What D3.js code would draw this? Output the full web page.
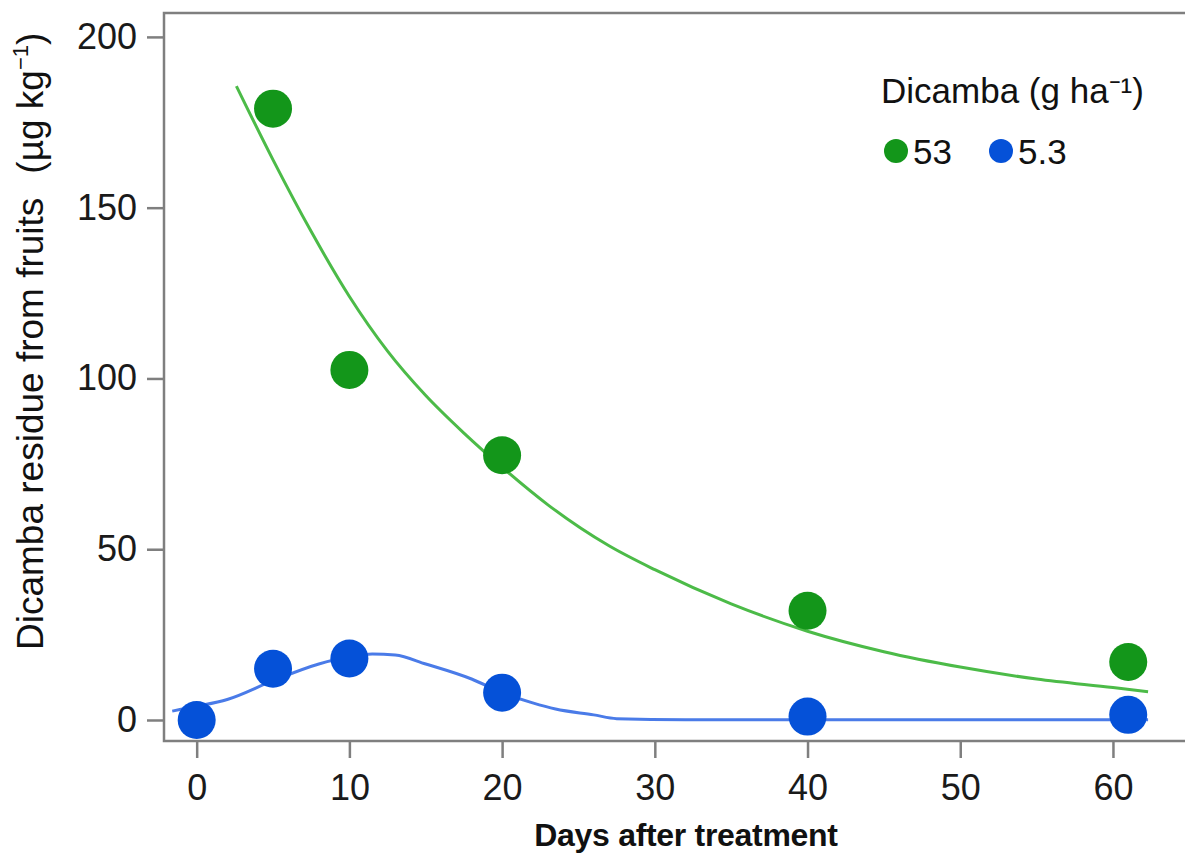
<!DOCTYPE html>
<html lang="en">
<head>
    <meta charset="UTF-8">
    <title>Dicamba residue</title>
    <style>
        body { margin: 0; background: #fff; }
        #chart { font-family: "Liberation Sans", Arial, sans-serif; }
        .axis path, .axis line { stroke: #7f7f7f; stroke-width: 2.5; }
        .axis text { font-size: 36px; fill: #1a1a1a; font-family: "Liberation Sans", Arial, sans-serif; }
    </style>
</head>
<body>
    <div id="chart"></div>
    <script src="https://d3js.org/d3.v7.min.js"></script>
    <script>
// observed points (days after treatment, residue µg/kg)
const days = [0, 5, 10, 20, 40, 61];
const high = [null, 179, 102.5, 77.5, 32, 17];     // 53 g/ha
const low = [0, 15, 18, 8, 1, 1.5];                // 5.3 g/ha

// fitted curves
const highFitX = [2.6, 5, 7.5, 10, 12.5, 15, 17.5, 20, 23, 27, 30, 35, 40, 45, 50, 55, 60, 62.3];
const highFitY = [185.6, 164, 143, 124, 108, 95, 84, 74, 63, 51, 44, 34, 26, 20, 15.5, 12, 9.5, 8.3];
const lowFitX = [-1.6, 0, 2, 5, 8, 10, 11.5, 13, 15, 18, 20, 22, 23.5, 26, 27.5, 32, 40, 50, 62.3];
const lowFitY = [2.6, 4, 6, 11.5, 16.4, 18.5, 19.3, 19, 16.4, 12, 8, 5, 3.2, 1.5, 0.4, 0.1, 0.1, 0.1, 0.1];

const xTicks = [0, 10, 20, 30, 40, 50, 60];
const yTicks = [0, 50, 100, 150, 200];

const green = "#13961a", greenLine = "#4cbb48";
const blue = "#0551d8", blueLine = "#4a7be8";

const W = 1185, H = 855;
const m = {left: 164, top: 13, right: 1200, bottom: 741};

const svg = d3.select("#chart").append("svg")
    .attr("width", W).attr("height", H);

const x = d3.scaleLinear().domain([-2.14, 65.7]).range([m.left, m.right]);
const y = d3.scaleLinear().domain([-6.15, 207]).range([m.bottom, m.top]);

// frame
svg.append("rect")
    .attr("x", m.left).attr("y", m.top)
    .attr("width", m.right - m.left).attr("height", m.bottom - m.top)
    .attr("fill", "none").attr("stroke", "#7f7f7f").attr("stroke-width", 2.5);

svg.append("g")
    .attr("class", "axis")
    .attr("transform", "translate(" + m.left + ",0)")
    .call(d3.axisLeft(y).tickValues(yTicks).tickSize(17).tickPadding(10))
    .call(g => g.select(".domain").remove());

svg.append("g")
    .attr("class", "axis")
    .attr("transform", "translate(0," + m.bottom + ")")
    .call(d3.axisBottom(x).tickValues(xTicks).tickSize(17).tickPadding(16))
    .call(g => g.select(".domain").remove());

// curves
const line = d3.line().x(d => x(d[0])).y(d => y(d[1])).curve(d3.curveMonotoneX);

svg.append("path")
    .datum(highFitX.map((d, i) => [d, highFitY[i]]))
    .attr("d", line).attr("fill", "none")
    .attr("stroke", greenLine).attr("stroke-width", 3);

svg.append("path")
    .datum(lowFitX.map((d, i) => [d, lowFitY[i]]))
    .attr("d", line).attr("fill", "none")
    .attr("stroke", blueLine).attr("stroke-width", 3);

// points
svg.selectAll(".pt-high")
    .data(days.map((d, i) => [d, high[i]]).filter(d => d[1] !== null))
    .enter().append("circle")
    .attr("class", "pt-high")
    .attr("cx", d => x(d[0])).attr("cy", d => y(d[1]))
    .attr("r", 19).attr("fill", green);

svg.selectAll(".pt-low")
    .data(days.map((d, i) => [d, low[i]]))
    .enter().append("circle")
    .attr("class", "pt-low")
    .attr("cx", d => x(d[0])).attr("cy", d => y(d[1]))
    .attr("r", 19).attr("fill", blue);

// axis titles
svg.append("text")
    .attr("x", 686).attr("y", 846)
    .attr("text-anchor", "middle")
    .attr("font-size", 32).attr("font-weight", "bold")
    .attr("letter-spacing", -0.3)
    .attr("fill", "#111")
    .text("Days after treatment");

const yl = svg.append("text")
    .attr("transform", "translate(43,650) rotate(-90)")
    .attr("font-size", 37).attr("fill", "#111");
yl.append("tspan").text("Dicamba residue from fruits");
yl.append("tspan").attr("dx", 24).text("(µg kg");
yl.append("tspan").attr("font-size", 22).attr("dy", -15).text("−1");
yl.append("tspan").attr("dy", 15).text(")");

// legend
svg.append("text")
    .attr("x", 881).attr("y", 103)
    .attr("font-size", 35).attr("fill", "#111")
    .text("Dicamba (g ha⁻¹)");

const legendItems = [
    {label: "53", color: green, cx: 896, tx: 913},
    {label: "5.3", color: blue, cx: 1001, tx: 1018}
];
legendItems.forEach(d => {
    svg.append("circle").attr("cx", d.cx).attr("cy", 151).attr("r", 12).attr("fill", d.color);
    svg.append("text").attr("x", d.tx).attr("y", 164)
        .attr("font-size", 35).attr("fill", "#111").text(d.label);
});
    </script>
</body>
</html>
